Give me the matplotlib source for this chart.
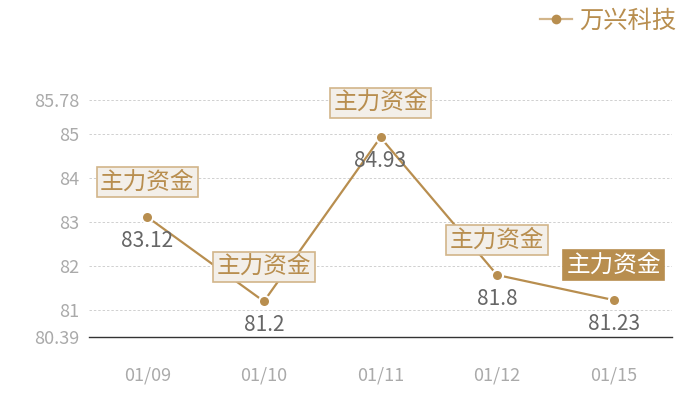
import numpy as np
import matplotlib
matplotlib.use('Agg')
import matplotlib.pyplot as plt

plt.rcParams['font.family'] = ['Noto Sans CJK SC', 'DejaVu Sans']

dates = ['01/09', '01/10', '01/11', '01/12', '01/15']
prices = [83.12, 81.2, 84.93, 81.8, 81.23]
yticks = [80.39, 81, 82, 83, 84, 85, 85.78]
series_name = '万兴科技'
tag = '主力资金'

gold = '#b88e4f'

fig = plt.figure(figsize=(7, 4), dpi=100)
ax = fig.add_axes([89/700, 63/400, 583/700, 237/400])

x = np.arange(len(dates))
ax.plot(x, prices, color=gold, lw=1.6, marker='o', ms=8, mfc=gold,
        mec='white', mew=1.5, label=series_name, zorder=3)

ax.set_xlim(-0.5, len(dates) - 0.5)
ax.set_ylim(yticks[0], yticks[-1])
ax.set_yticks(yticks)
ax.set_yticklabels([f'{v:g}' for v in yticks])
ax.set_xticks(x)
ax.set_xticklabels(dates)
ax.tick_params(axis='both', length=0, labelsize=13, colors='#aaaaaa')
ax.tick_params(axis='x', pad=21)
ax.tick_params(axis='y', pad=7)

for s in ['top', 'right', 'left']:
    ax.spines[s].set_visible(False)
ax.spines['bottom'].set_color('#333333')
ax.spines['bottom'].set_linewidth(1.0)

for v in yticks[1:]:
    ax.axhline(v, color='#d0d0d0', lw=0.7, ls=(0, (2.5, 2)), zorder=0)

for i, (xi, yi) in enumerate(zip(x, prices)):
    last = i == len(x) - 1
    ax.annotate(tag, (xi, yi), xytext=(0, 25), textcoords='offset points',
                ha='center', va='center', fontsize=17,
                color='white' if last else gold,
                bbox=dict(boxstyle='square,pad=0.15',
                          fc=gold if last else '#f3efe9',
                          ec=gold if last else '#d2b58a', lw=1.2),
                zorder=4)
    ax.annotate(f'{yi:g}', (xi, yi), xytext=(0, -17), textcoords='offset points',
                ha='center', va='center', fontsize=15, color='#666666', zorder=4)

leg = fig.legend(loc='upper right', bbox_to_anchor=(0.997, 1.035), frameon=False,
                 fontsize=17.5, labelcolor=gold, handlelength=1.3, handletextpad=0.3)
for h in leg.legend_handles:
    h.set_markeredgewidth(0)
    h.set_markersize(7)
    h.set_color('#d2b58a')
    h.set_markerfacecolor(gold)

fig.savefig('out.png', dpi=100)
